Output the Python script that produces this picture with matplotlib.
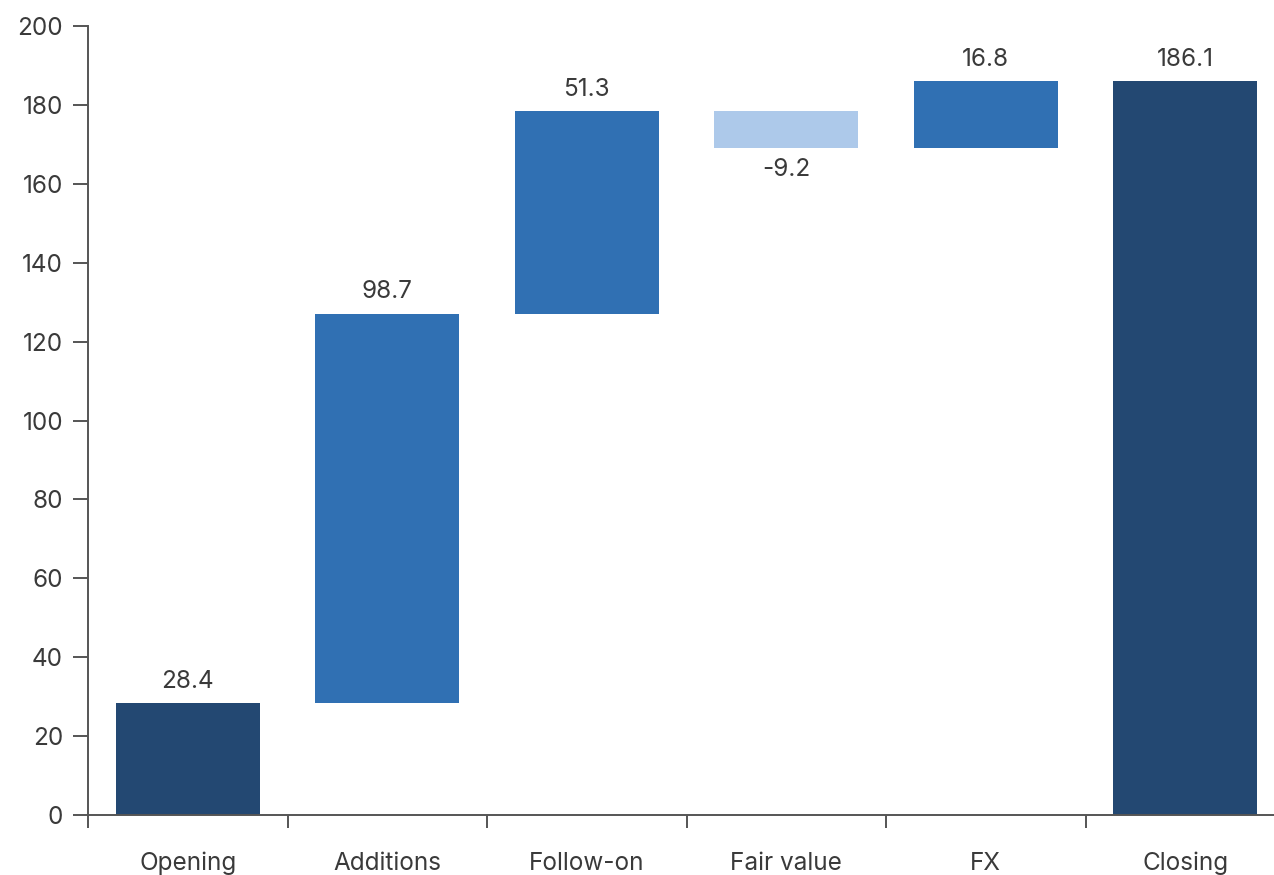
import matplotlib
matplotlib.use("Agg")
import matplotlib.pyplot as plt
import numpy as np

plt.rcParams['font.family'] = ['Inter', 'DejaVu Sans']

# waterfall data
categories = ['Opening', 'Additions', 'Follow-on', 'Fair value', 'FX', 'Closing']
changes = [28.4, 98.7, 51.3, -9.2, 16.8, 186.1]
kinds = ['total', 'delta', 'delta', 'delta', 'delta', 'total']

c_total = '#234872'
c_up = '#3070b3'
c_down = '#adc9ea'
txt = '#3a3a3a'
axis_c = '#555555'
fs = 17.5

fig = plt.figure(figsize=(12.74, 8.75), dpi=100)
# axes runs a bit past the right edge of the figure
ax = fig.add_axes([88 / 1274, 60 / 875, 1197 / 1274, 789 / 875])

x = np.arange(len(categories))
running = 0.0
for i, (val, kind) in enumerate(zip(changes, kinds)):
    if kind == 'total':
        bottom, height, col = 0, val, c_total
        running = val
    else:
        bottom, height = running, val
        col = c_up if val >= 0 else c_down
        running += val
    ax.bar(x[i], height, bottom=bottom, width=0.72, color=col, linewidth=0)
    top = max(bottom, bottom + height)
    low = min(bottom, bottom + height)
    if val >= 0:
        ax.text(x[i], top + 2.6, f'{val:.1f}', ha='center', va='bottom',
                fontsize=fs, color=txt)
    else:
        ax.text(x[i], low - 2.6, f'{val:.1f}', ha='center', va='top',
                fontsize=fs, color=txt)

ax.set_xlim(-0.5, len(categories) - 0.5)
ax.set_ylim(0, 200)
ax.set_yticks(np.arange(0, 201, 20))

# category labels centred, tick marks on the boundaries
ax.set_xticks(np.arange(-0.5, len(categories) - 0.5, 1))
ax.set_xticklabels([])
ax.set_xticks(x, minor=True)
ax.set_xticklabels(categories, minor=True)
ax.tick_params(axis='x', which='minor', length=0, pad=26.5, labelsize=fs, labelcolor=txt)
ax.tick_params(axis='x', which='major', length=9.5, width=1.4, color=axis_c, direction='out')
ax.tick_params(axis='y', length=11, width=1.4, color=axis_c, labelsize=fs,
               labelcolor=txt, pad=7)

for s in ['top', 'right']:
    ax.spines[s].set_visible(False)
for s in ['left', 'bottom']:
    ax.spines[s].set_color(axis_c)
    ax.spines[s].set_linewidth(1.4)

fig.savefig('out.png', dpi=100)
